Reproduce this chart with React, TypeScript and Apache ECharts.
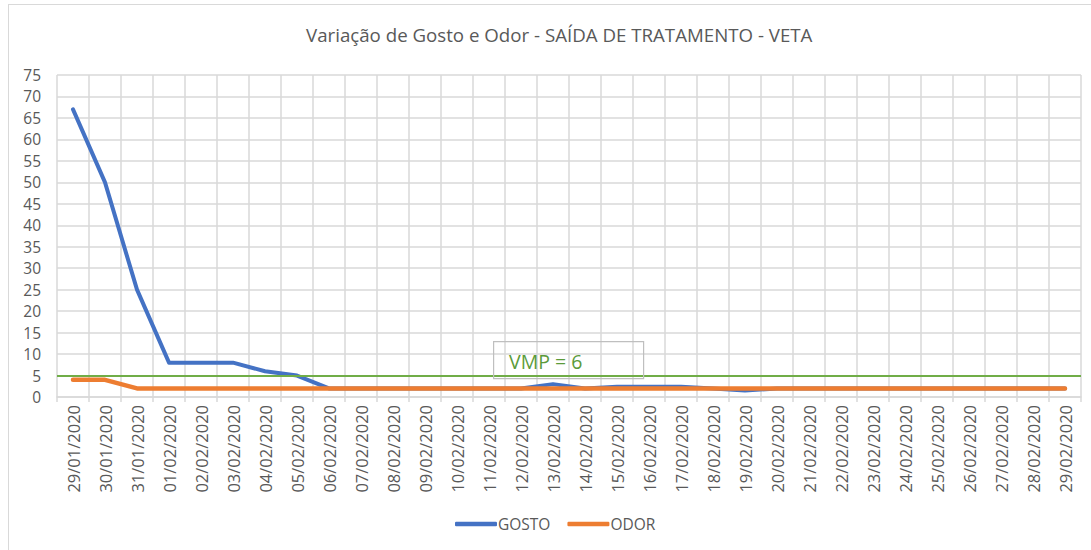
import React, { useEffect, useRef } from "react";
import * as echarts from "echarts";

const categories = [
  "29/01/2020", "30/01/2020", "31/01/2020", "01/02/2020", "02/02/2020", "03/02/2020",
  "04/02/2020", "05/02/2020", "06/02/2020", "07/02/2020", "08/02/2020", "09/02/2020",
  "10/02/2020", "11/02/2020", "12/02/2020", "13/02/2020", "14/02/2020", "15/02/2020",
  "16/02/2020", "17/02/2020", "18/02/2020", "19/02/2020", "20/02/2020", "21/02/2020",
  "22/02/2020", "23/02/2020", "24/02/2020", "25/02/2020", "26/02/2020", "27/02/2020",
  "28/02/2020", "29/02/2020",
];

const gosto = [
  67, 50, 25, 8, 8, 8, 6, 5, 2, 2, 2, 2, 2, 2, 2, 3, 2, 2.4, 2.4, 2.4, 2, 1.5, 2, 2,
  2, 2, 2, 2, 2, 2, 2, 2,
];

const odor = [
  4, 4, 2, 2, 2, 2, 2, 2, 2, 2, 2, 2, 2, 2, 2, 2, 2, 2, 2, 2, 2, 2, 2, 2, 2, 2, 2, 2,
  2, 2, 2, 2,
];

const vmpLine = 5;
const vmpLabel = "VMP = 6";
const title = "Variação de Gosto e Odor - SAÍDA DE TRATAMENTO - VETA";

const FONT = "'Open Sans', sans-serif";
const TXT = "#595959";

export default function App() {
  const ref = useRef<HTMLDivElement>(null);

  useEffect(() => {
    if (!ref.current) return;
    const chart = echarts.init(ref.current, undefined, { renderer: "svg" });
    chart.setOption({
      animation: false,
      backgroundColor: "transparent",
      textStyle: { fontFamily: FONT },
      title: {
        text: title,
        left: 301,
        top: 20,
        textStyle: { fontFamily: FONT, fontSize: 18.7, fontWeight: "normal", color: TXT },
      },
      legend: {
        bottom: 13,
        left: 450,
        icon: "roundRect",
        itemWidth: 42,
        itemHeight: 4.5,
        itemGap: 17,
        textStyle: { fontFamily: FONT, fontSize: 15.5, color: TXT, padding: [0, 0, 0, -4] },
        data: ["GOSTO", "ODOR"],
      },
      grid: { left: 57, top: 75, width: 1024, height: 322, containLabel: false },
      xAxis: {
        type: "category",
        data: categories,
        boundaryGap: true,
        axisLine: { show: true, lineStyle: { color: "#d9d9d9", width: 1.5 } },
        axisTick: { show: true, alignWithLabel: false, length: 5, lineStyle: { color: "#d9d9d9", width: 1.5 } },
        splitLine: { show: true, lineStyle: { color: "#d9d9d9", width: 1.5 } },
        axisLabel: {
          rotate: 90,
          interval: 0,
          margin: 8,
          fontFamily: FONT,
          fontSize: 16.5,
          color: TXT,
        },
      },
      yAxis: {
        type: "value",
        min: 0,
        max: 75,
        interval: 5,
        axisLine: { show: false },
        axisTick: { show: false },
        splitLine: { show: true, lineStyle: { color: "#d9d9d9", width: 1.5 } },
        axisLabel: { fontFamily: FONT, fontSize: 15.5, color: TXT, margin: 16 },
      },
      series: [
        {
          name: "GOSTO",
          type: "line",
          data: gosto,
          symbol: "none",
          lineStyle: { color: "#4472C4", width: 4, cap: "round", join: "round" },
          itemStyle: { color: "#4472C4" },
          markLine: {
            silent: true,
            symbol: "none",
            label: { show: false },
            lineStyle: { color: "#70AD47", width: 2, type: "solid" },
            data: [{ yAxis: vmpLine }],
          },
        },
        {
          name: "ODOR",
          type: "line",
          data: odor,
          symbol: "none",
          lineStyle: { color: "#ED7D31", width: 4.5, cap: "round", join: "round" },
          itemStyle: { color: "#ED7D31" },
        },
      ],
      graphic: [
        {
          type: "rect",
          left: 493,
          top: 341,
          shape: { width: 150, height: 37 },
          style: { fill: "rgba(255,255,255,0)", stroke: "#bfbfbf", lineWidth: 1.2 },
          z: 10,
        },
        {
          type: "text",
          left: 509,
          top: 351,
          style: { text: vmpLabel, fontFamily: FONT, fontSize: 19.5, fill: "#5B9B3A" },
          z: 11,
        },
      ],
    });
    return () => chart.dispose();
  }, []);

  return (
    <div style={{ position: "fixed", left: 0, top: 0, width: 1091, height: 550, overflow: "hidden", background: "#fff" }}>
      <div
        style={{
          position: "absolute",
          left: 8,
          top: 4,
          width: 1200,
          height: 700,
          border: "1.5px solid #d9d9d9",
          boxSizing: "border-box",
        }}
      />
      <div ref={ref} style={{ position: "absolute", left: 0, top: 0, width: 1091, height: 550 }} />
    </div>
  );
}
